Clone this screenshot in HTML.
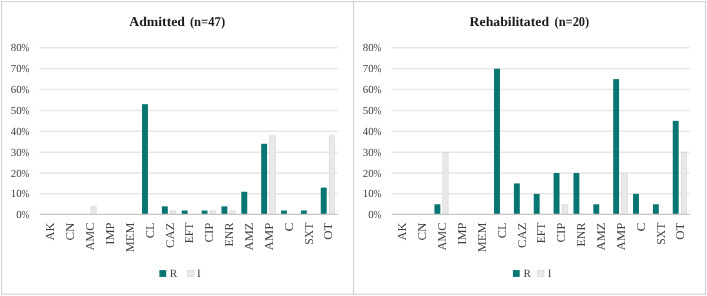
<!DOCTYPE html>
<html><head><meta charset="utf-8"><style>
html,body{margin:0;padding:0;background:#fff;width:707px;height:296px;overflow:hidden;font-family:"Liberation Serif",serif;}
svg{display:block;text-rendering:geometricPrecision;filter:blur(0.5px);}
</style></head><body>
<svg width="707" height="296" viewBox="0 0 707 296">
<rect x="0" y="0" width="707" height="296" fill="#fff"/>
<g font-family="Liberation Serif, serif">
<text x="129.30" y="25.9" font-size="13.5" font-weight="bold" fill="#1a1a1a" textLength="55.70" lengthAdjust="spacingAndGlyphs">Admitted</text>
<text x="189.90" y="25.9" font-size="13.5" font-weight="bold" fill="#1a1a1a" textLength="35.20" lengthAdjust="spacingAndGlyphs">(n=47)</text>
<line x1="39.80" x2="337.70" y1="193.84" y2="193.84" stroke="#e7e7e7" stroke-width="1.5"/>
<line x1="39.80" x2="337.70" y1="172.99" y2="172.99" stroke="#e7e7e7" stroke-width="1.5"/>
<line x1="39.80" x2="337.70" y1="152.13" y2="152.13" stroke="#e7e7e7" stroke-width="1.5"/>
<line x1="39.80" x2="337.70" y1="131.27" y2="131.27" stroke="#e7e7e7" stroke-width="1.5"/>
<line x1="39.80" x2="337.70" y1="110.41" y2="110.41" stroke="#e7e7e7" stroke-width="1.5"/>
<line x1="39.80" x2="337.70" y1="89.56" y2="89.56" stroke="#e7e7e7" stroke-width="1.5"/>
<line x1="39.80" x2="337.70" y1="68.70" y2="68.70" stroke="#e7e7e7" stroke-width="1.5"/>
<line x1="39.80" x2="337.70" y1="47.84" y2="47.84" stroke="#e7e7e7" stroke-width="1.5"/>
<text x="21.60" y="218.30" font-size="10.9" fill="#404040" text-anchor="end">0</text>
<text x="21.60" y="218.30" font-size="10.9" fill="#404040" textLength="7.81" lengthAdjust="spacingAndGlyphs">%</text>
<text x="21.60" y="197.44" font-size="10.9" fill="#404040" text-anchor="end">10</text>
<text x="21.60" y="197.44" font-size="10.9" fill="#404040" textLength="7.81" lengthAdjust="spacingAndGlyphs">%</text>
<text x="21.60" y="176.59" font-size="10.9" fill="#404040" text-anchor="end">20</text>
<text x="21.60" y="176.59" font-size="10.9" fill="#404040" textLength="7.81" lengthAdjust="spacingAndGlyphs">%</text>
<text x="21.60" y="155.73" font-size="10.9" fill="#404040" text-anchor="end">30</text>
<text x="21.60" y="155.73" font-size="10.9" fill="#404040" textLength="7.81" lengthAdjust="spacingAndGlyphs">%</text>
<text x="21.60" y="134.87" font-size="10.9" fill="#404040" text-anchor="end">40</text>
<text x="21.60" y="134.87" font-size="10.9" fill="#404040" textLength="7.81" lengthAdjust="spacingAndGlyphs">%</text>
<text x="21.60" y="114.01" font-size="10.9" fill="#404040" text-anchor="end">50</text>
<text x="21.60" y="114.01" font-size="10.9" fill="#404040" textLength="7.81" lengthAdjust="spacingAndGlyphs">%</text>
<text x="21.60" y="93.16" font-size="10.9" fill="#404040" text-anchor="end">60</text>
<text x="21.60" y="93.16" font-size="10.9" fill="#404040" textLength="7.81" lengthAdjust="spacingAndGlyphs">%</text>
<text x="21.60" y="72.30" font-size="10.9" fill="#404040" text-anchor="end">70</text>
<text x="21.60" y="72.30" font-size="10.9" fill="#404040" textLength="7.81" lengthAdjust="spacingAndGlyphs">%</text>
<text x="21.60" y="51.44" font-size="10.9" fill="#404040" text-anchor="end">80</text>
<text x="21.60" y="51.44" font-size="10.9" fill="#404040" textLength="7.81" lengthAdjust="spacingAndGlyphs">%</text>
<rect x="90.90" y="206.71" width="5.20" height="7.49" fill="#e9e9e9" stroke="#d6d6d6" stroke-width="0.7"/>
<rect x="142.03" y="104.16" width="5.9" height="110.04" fill="#077571"/>
<rect x="161.89" y="206.36" width="5.9" height="7.84" fill="#077571"/>
<rect x="170.34" y="210.88" width="5.20" height="3.32" fill="#e9e9e9" stroke="#d6d6d6" stroke-width="0.7"/>
<rect x="181.75" y="210.53" width="5.9" height="3.67" fill="#077571"/>
<rect x="201.61" y="210.53" width="5.9" height="3.67" fill="#077571"/>
<rect x="210.06" y="210.88" width="5.20" height="3.32" fill="#e9e9e9" stroke="#d6d6d6" stroke-width="0.7"/>
<rect x="221.47" y="206.36" width="5.9" height="7.84" fill="#077571"/>
<rect x="229.92" y="210.88" width="5.20" height="3.32" fill="#e9e9e9" stroke="#d6d6d6" stroke-width="0.7"/>
<rect x="241.33" y="191.76" width="5.9" height="22.44" fill="#077571"/>
<rect x="261.19" y="143.79" width="5.9" height="70.41" fill="#077571"/>
<rect x="269.64" y="135.79" width="6.00" height="78.41" fill="#e9e9e9" stroke="#d6d6d6" stroke-width="0.7"/>
<rect x="281.05" y="210.53" width="5.9" height="3.67" fill="#077571"/>
<rect x="300.91" y="210.53" width="5.9" height="3.67" fill="#077571"/>
<rect x="320.77" y="187.59" width="5.9" height="26.61" fill="#077571"/>
<rect x="329.22" y="135.79" width="5.20" height="78.41" fill="#e9e9e9" stroke="#d6d6d6" stroke-width="0.7"/>
<line x1="39.80" x2="337.70" y1="214.45" y2="214.45" stroke="#c6c6c6" stroke-width="1.3"/>
<text transform="translate(54.38,222.60) rotate(-90)" x="0" y="0" font-size="12.0" fill="#404040" text-anchor="end" textLength="17.80" lengthAdjust="spacingAndGlyphs">AK</text>
<text transform="translate(74.24,222.60) rotate(-90)" x="0" y="0" font-size="12.0" fill="#404040" text-anchor="end" textLength="17.90" lengthAdjust="spacingAndGlyphs">CN</text>
<text transform="translate(94.10,222.60) rotate(-90)" x="0" y="0" font-size="12.0" fill="#404040" text-anchor="end" textLength="28.00" lengthAdjust="spacingAndGlyphs">AMC</text>
<text transform="translate(113.96,222.60) rotate(-90)" x="0" y="0" font-size="12.0" fill="#404040" text-anchor="end" textLength="22.10" lengthAdjust="spacingAndGlyphs">IMP</text>
<text transform="translate(133.82,222.60) rotate(-90)" x="0" y="0" font-size="12.0" fill="#404040" text-anchor="end" textLength="29.60" lengthAdjust="spacingAndGlyphs">MEM</text>
<text transform="translate(153.68,222.60) rotate(-90)" x="0" y="0" font-size="12.0" fill="#404040" text-anchor="end" textLength="15.70" lengthAdjust="spacingAndGlyphs">CL</text>
<text transform="translate(173.54,222.60) rotate(-90)" x="0" y="0" font-size="12.0" fill="#404040" text-anchor="end" textLength="25.30" lengthAdjust="spacingAndGlyphs">CAZ</text>
<text transform="translate(193.40,222.60) rotate(-90)" x="0" y="0" font-size="12.0" fill="#404040" text-anchor="end" textLength="20.70" lengthAdjust="spacingAndGlyphs">EFT</text>
<text transform="translate(213.26,222.60) rotate(-90)" x="0" y="0" font-size="12.0" fill="#404040" text-anchor="end" textLength="20.00" lengthAdjust="spacingAndGlyphs">CIP</text>
<text transform="translate(233.12,222.60) rotate(-90)" x="0" y="0" font-size="12.0" fill="#404040" text-anchor="end" textLength="23.90" lengthAdjust="spacingAndGlyphs">ENR</text>
<text transform="translate(252.98,222.60) rotate(-90)" x="0" y="0" font-size="12.0" fill="#404040" text-anchor="end" textLength="27.80" lengthAdjust="spacingAndGlyphs">AMZ</text>
<text transform="translate(272.84,222.60) rotate(-90)" x="0" y="0" font-size="12.0" fill="#404040" text-anchor="end" textLength="27.81" lengthAdjust="spacingAndGlyphs">AMP</text>
<text transform="translate(292.70,222.60) rotate(-90)" x="0" y="0" font-size="12.0" fill="#404040" text-anchor="end" textLength="8.90" lengthAdjust="spacingAndGlyphs">C</text>
<text transform="translate(312.56,222.60) rotate(-90)" x="0" y="0" font-size="12.0" fill="#404040" text-anchor="end" textLength="22.10" lengthAdjust="spacingAndGlyphs">SXT</text>
<text transform="translate(332.42,222.60) rotate(-90)" x="0" y="0" font-size="12.0" fill="#404040" text-anchor="end" textLength="17.10" lengthAdjust="spacingAndGlyphs">OT</text>
<rect x="159.40" y="270.1" width="6.8" height="6.8" fill="#077571"/>
<text x="169.85" y="276.6" font-size="11.2" fill="#404040">R</text>
<rect x="187.45" y="270.45" width="6.5" height="6.1" fill="#e9e9e9" stroke="#d6d6d6" stroke-width="0.7"/>
<text x="196.95" y="276.6" font-size="11.2" fill="#404040">I</text>
<text x="469.60" y="25.9" font-size="13.5" font-weight="bold" fill="#1a1a1a" textLength="79.50" lengthAdjust="spacingAndGlyphs">Rehabilitated</text>
<text x="554.50" y="25.9" font-size="13.5" font-weight="bold" fill="#1a1a1a" textLength="34.70" lengthAdjust="spacingAndGlyphs">(n=20)</text>
<line x1="391.80" x2="689.70" y1="193.84" y2="193.84" stroke="#e7e7e7" stroke-width="1.5"/>
<line x1="391.80" x2="689.70" y1="172.99" y2="172.99" stroke="#e7e7e7" stroke-width="1.5"/>
<line x1="391.80" x2="689.70" y1="152.13" y2="152.13" stroke="#e7e7e7" stroke-width="1.5"/>
<line x1="391.80" x2="689.70" y1="131.27" y2="131.27" stroke="#e7e7e7" stroke-width="1.5"/>
<line x1="391.80" x2="689.70" y1="110.41" y2="110.41" stroke="#e7e7e7" stroke-width="1.5"/>
<line x1="391.80" x2="689.70" y1="89.56" y2="89.56" stroke="#e7e7e7" stroke-width="1.5"/>
<line x1="391.80" x2="689.70" y1="68.70" y2="68.70" stroke="#e7e7e7" stroke-width="1.5"/>
<line x1="391.80" x2="689.70" y1="47.84" y2="47.84" stroke="#e7e7e7" stroke-width="1.5"/>
<text x="373.60" y="218.30" font-size="10.9" fill="#404040" text-anchor="end">0</text>
<text x="373.60" y="218.30" font-size="10.9" fill="#404040" textLength="7.81" lengthAdjust="spacingAndGlyphs">%</text>
<text x="373.60" y="197.44" font-size="10.9" fill="#404040" text-anchor="end">10</text>
<text x="373.60" y="197.44" font-size="10.9" fill="#404040" textLength="7.81" lengthAdjust="spacingAndGlyphs">%</text>
<text x="373.60" y="176.59" font-size="10.9" fill="#404040" text-anchor="end">20</text>
<text x="373.60" y="176.59" font-size="10.9" fill="#404040" textLength="7.81" lengthAdjust="spacingAndGlyphs">%</text>
<text x="373.60" y="155.73" font-size="10.9" fill="#404040" text-anchor="end">30</text>
<text x="373.60" y="155.73" font-size="10.9" fill="#404040" textLength="7.81" lengthAdjust="spacingAndGlyphs">%</text>
<text x="373.60" y="134.87" font-size="10.9" fill="#404040" text-anchor="end">40</text>
<text x="373.60" y="134.87" font-size="10.9" fill="#404040" textLength="7.81" lengthAdjust="spacingAndGlyphs">%</text>
<text x="373.60" y="114.01" font-size="10.9" fill="#404040" text-anchor="end">50</text>
<text x="373.60" y="114.01" font-size="10.9" fill="#404040" textLength="7.81" lengthAdjust="spacingAndGlyphs">%</text>
<text x="373.60" y="93.16" font-size="10.9" fill="#404040" text-anchor="end">60</text>
<text x="373.60" y="93.16" font-size="10.9" fill="#404040" textLength="7.81" lengthAdjust="spacingAndGlyphs">%</text>
<text x="373.60" y="72.30" font-size="10.9" fill="#404040" text-anchor="end">70</text>
<text x="373.60" y="72.30" font-size="10.9" fill="#404040" textLength="7.81" lengthAdjust="spacingAndGlyphs">%</text>
<text x="373.60" y="51.44" font-size="10.9" fill="#404040" text-anchor="end">80</text>
<text x="373.60" y="51.44" font-size="10.9" fill="#404040" textLength="7.81" lengthAdjust="spacingAndGlyphs">%</text>
<rect x="434.45" y="204.27" width="5.9" height="9.93" fill="#077571"/>
<rect x="442.90" y="152.48" width="5.20" height="61.72" fill="#e9e9e9" stroke="#d6d6d6" stroke-width="0.7"/>
<rect x="494.03" y="68.70" width="5.9" height="145.50" fill="#077571"/>
<rect x="513.89" y="183.41" width="5.9" height="30.79" fill="#077571"/>
<rect x="533.75" y="193.84" width="5.9" height="20.36" fill="#077571"/>
<rect x="553.61" y="172.99" width="5.9" height="41.21" fill="#077571"/>
<rect x="562.06" y="204.62" width="5.20" height="9.58" fill="#e9e9e9" stroke="#d6d6d6" stroke-width="0.7"/>
<rect x="573.47" y="172.99" width="5.9" height="41.21" fill="#077571"/>
<rect x="593.33" y="204.27" width="5.9" height="9.93" fill="#077571"/>
<rect x="613.19" y="79.13" width="5.9" height="135.07" fill="#077571"/>
<rect x="621.64" y="173.34" width="6.00" height="40.86" fill="#e9e9e9" stroke="#d6d6d6" stroke-width="0.7"/>
<rect x="633.05" y="193.84" width="5.9" height="20.36" fill="#077571"/>
<rect x="652.91" y="204.27" width="5.9" height="9.93" fill="#077571"/>
<rect x="672.77" y="120.84" width="5.9" height="93.36" fill="#077571"/>
<rect x="681.22" y="152.48" width="5.20" height="61.72" fill="#e9e9e9" stroke="#d6d6d6" stroke-width="0.7"/>
<line x1="391.80" x2="689.70" y1="214.45" y2="214.45" stroke="#c6c6c6" stroke-width="1.3"/>
<text transform="translate(406.38,222.60) rotate(-90)" x="0" y="0" font-size="12.0" fill="#404040" text-anchor="end" textLength="17.80" lengthAdjust="spacingAndGlyphs">AK</text>
<text transform="translate(426.24,222.60) rotate(-90)" x="0" y="0" font-size="12.0" fill="#404040" text-anchor="end" textLength="17.90" lengthAdjust="spacingAndGlyphs">CN</text>
<text transform="translate(446.10,222.60) rotate(-90)" x="0" y="0" font-size="12.0" fill="#404040" text-anchor="end" textLength="28.00" lengthAdjust="spacingAndGlyphs">AMC</text>
<text transform="translate(465.96,222.60) rotate(-90)" x="0" y="0" font-size="12.0" fill="#404040" text-anchor="end" textLength="22.10" lengthAdjust="spacingAndGlyphs">IMP</text>
<text transform="translate(485.82,222.60) rotate(-90)" x="0" y="0" font-size="12.0" fill="#404040" text-anchor="end" textLength="29.60" lengthAdjust="spacingAndGlyphs">MEM</text>
<text transform="translate(505.68,222.60) rotate(-90)" x="0" y="0" font-size="12.0" fill="#404040" text-anchor="end" textLength="15.70" lengthAdjust="spacingAndGlyphs">CL</text>
<text transform="translate(525.54,222.60) rotate(-90)" x="0" y="0" font-size="12.0" fill="#404040" text-anchor="end" textLength="25.30" lengthAdjust="spacingAndGlyphs">CAZ</text>
<text transform="translate(545.40,222.60) rotate(-90)" x="0" y="0" font-size="12.0" fill="#404040" text-anchor="end" textLength="20.70" lengthAdjust="spacingAndGlyphs">EFT</text>
<text transform="translate(565.26,222.60) rotate(-90)" x="0" y="0" font-size="12.0" fill="#404040" text-anchor="end" textLength="20.00" lengthAdjust="spacingAndGlyphs">CIP</text>
<text transform="translate(585.12,222.60) rotate(-90)" x="0" y="0" font-size="12.0" fill="#404040" text-anchor="end" textLength="23.90" lengthAdjust="spacingAndGlyphs">ENR</text>
<text transform="translate(604.98,222.60) rotate(-90)" x="0" y="0" font-size="12.0" fill="#404040" text-anchor="end" textLength="27.80" lengthAdjust="spacingAndGlyphs">AMZ</text>
<text transform="translate(624.84,222.60) rotate(-90)" x="0" y="0" font-size="12.0" fill="#404040" text-anchor="end" textLength="27.81" lengthAdjust="spacingAndGlyphs">AMP</text>
<text transform="translate(644.70,222.60) rotate(-90)" x="0" y="0" font-size="12.0" fill="#404040" text-anchor="end" textLength="8.90" lengthAdjust="spacingAndGlyphs">C</text>
<text transform="translate(664.56,222.60) rotate(-90)" x="0" y="0" font-size="12.0" fill="#404040" text-anchor="end" textLength="22.10" lengthAdjust="spacingAndGlyphs">SXT</text>
<text transform="translate(684.42,222.60) rotate(-90)" x="0" y="0" font-size="12.0" fill="#404040" text-anchor="end" textLength="17.10" lengthAdjust="spacingAndGlyphs">OT</text>
<rect x="512.90" y="270.1" width="6.8" height="6.8" fill="#077571"/>
<text x="523.40" y="276.6" font-size="11.2" fill="#404040">R</text>
<rect x="537.55" y="270.45" width="6.5" height="6.1" fill="#e9e9e9" stroke="#d6d6d6" stroke-width="0.7"/>
<text x="547.70" y="276.6" font-size="11.2" fill="#404040">I</text>
</g>
<rect x="1.6" y="1.6" width="703.9" height="292.6" fill="none" stroke="#d4d4d4" stroke-width="1.2"/>
<line x1="353.5" x2="353.5" y1="1" y2="295" stroke="#d4d4d4" stroke-width="1.2"/>
</svg>
</body></html>
